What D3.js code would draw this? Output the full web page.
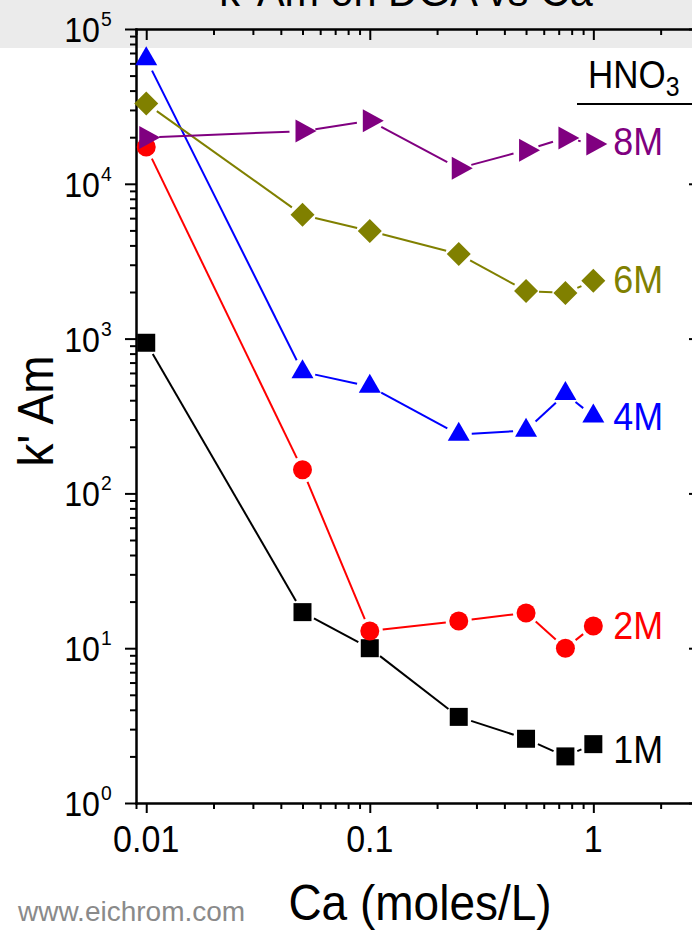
<!DOCTYPE html>
<html><head><meta charset="utf-8">
<script src="https://cdn.jsdelivr.net/npm/d3@7"></script>
<style>body{margin:0;background:#fff;} svg{display:block;} text{font-family:"Liberation Sans",Arial,sans-serif;}</style>
</head><body><svg id="c" width="692" height="930"></svg>
<script>
// ---- data ----
const caValues = [0.01, 0.05, 0.1, 0.25, 0.5, 0.75, 1.0];
const k1M = [940, 17.1, 10.0, 3.6, 2.6, 2.0, 2.4];
const k2M = [17300, 142, 12.9, 15.0, 16.9, 10.0, 13.9];
const k4M = [64000, 610, 490, 240, 255, 440, 315];
const k6M = [33000, 6300, 4950, 3520, 2030, 1970, 2360];
const k8M = [19900, 21900, 25500, 12600, 16500, 19800, 18100];
const seriesNames = ["1M", "2M", "4M", "6M", "8M"];
const seriesValues = [k1M, k2M, k4M, k6M, k8M];
const seriesColors = ["#000000", "#ff0000", "#0000ff", "#808000", "#800080"];
const seriesShapes = ["square", "circle", "triangle", "diamond", "rtriangle"];
const xMajorTicks = [0.01, 0.1, 1];
const xTickLabels = ["0.01", "0.1", "1"];
const yMajorTicks = [1, 10, 100, 1000, 10000, 100000];
const yTickExponents = ["0", "1", "2", "3", "4", "5"];
const titleText = "k' Am on DGA vs Ca";
const xTitle = "Ca (moles/L)";
const yTitle = "k' Am";
const legendTitle = "HNO";
const legendSub = "3";
const watermark = "www.eichrom.com";

// ---- setup ----
const svg = d3.select("#c");
const SX = 0.92;
const x = d3.scaleLog().domain([0.009, 3]).range([136, 700]);
const y = d3.scaleLog().domain([1, 1e5]).range([803, 29]);

svg.append("rect").attr("x", 0).attr("y", 0).attr("width", 692).attr("height", 48).attr("fill", "#ebebeb");

function txt(g, px, py, s, size, anchor, fill, rot) {
  return g.append("text")
    .attr("transform", `translate(${px},${py})` + (rot ? ` rotate(${rot})` : "") + ` scale(${SX},1)`)
    .attr("text-anchor", anchor).attr("font-size", size).attr("fill", fill).text(s);
}

// title (cut off at top, as in the reference)
txt(svg, 406, 6, titleText, 45, "middle", "#000");

// minor tick values
const xMinor = [];
for (let e = -3; e <= 0; e++) for (let m = 1; m <= 9; m++) {
  const v = m * Math.pow(10, e);
  if (v >= 0.009 && v <= 3 && !xMajorTicks.includes(+v.toPrecision(3))) xMinor.push(v);
}
const yMinor = [];
for (let e = 0; e <= 4; e++) for (let m = 2; m <= 9; m++) yMinor.push(m * Math.pow(10, e));

function styleAxis(g) {
  g.selectAll("path.domain").attr("stroke", "#000").attr("stroke-width", 2);
  g.selectAll(".tick line").attr("stroke", "#000").attr("stroke-width", 2);
  g.selectAll(".tick text").remove();
}
const axes = svg.append("g");
// bottom
axes.append("g").attr("transform", "translate(0,803)")
  .call(d3.axisBottom(x).tickValues(xMajorTicks).tickSizeInner(10).tickSizeOuter(0).tickFormat(""))
  .call(styleAxis);
axes.append("g").attr("transform", "translate(0,803)")
  .call(d3.axisBottom(x).tickValues(xMinor).tickSizeInner(6).tickSizeOuter(0).tickFormat(""))
  .call(styleAxis);
// top (inward)
axes.append("g").attr("transform", "translate(0,29)")
  .call(d3.axisTop(x).tickValues(xMajorTicks).tickSizeInner(-11).tickSizeOuter(0).tickFormat(""))
  .call(styleAxis);
axes.append("g").attr("transform", "translate(0,29)")
  .call(d3.axisTop(x).tickValues(xMinor).tickSizeInner(-6).tickSizeOuter(0).tickFormat(""))
  .call(styleAxis);
// left
axes.append("g").attr("transform", "translate(136,0)")
  .call(d3.axisLeft(y).tickValues(yMajorTicks).tickSizeInner(11).tickSizeOuter(0).tickFormat(""))
  .call(styleAxis);
axes.append("g").attr("transform", "translate(136,0)")
  .call(d3.axisLeft(y).tickValues(yMinor).tickSizeInner(6).tickSizeOuter(0).tickFormat(""))
  .call(styleAxis);
// right (inward)
axes.append("g").attr("transform", "translate(700,0)")
  .call(d3.axisRight(y).tickValues(yMajorTicks).tickSizeInner(-11).tickSizeOuter(0).tickFormat(""))
  .call(styleAxis);
axes.append("g").attr("transform", "translate(700,0)")
  .call(d3.axisRight(y).tickValues(yMinor).tickSizeInner(-6).tickSizeOuter(0).tickFormat(""))
  .call(styleAxis);
axes.selectAll("path.domain").attr("stroke-linecap", "square");

// tick labels
xMajorTicks.forEach((v, i) => txt(svg, x(v), 852, xTickLabels[i], 37, "middle", "#000"));
yMajorTicks.forEach((v, i) => {
  txt(svg, 100, y(v) + 13, "10", 35, "end", "#000");
  txt(svg, 101, y(v) - 3, yTickExponents[i], 21, "start", "#000");
});

// axis titles
txt(svg, 420, 920, xTitle, 50, "middle", "#000");
txt(svg, 53, 411, yTitle, 50, "middle", "#000", -90);
// watermark
svg.append("text").attr("x", 18).attr("y", 921).attr("font-size", 28).attr("fill", "#8a8a8a").text(watermark);

// legend header
const lg = svg.append("text").attr("transform", `translate(588,88) scale(${SX},1)`).attr("font-size", 38).attr("fill", "#000");
lg.append("tspan").text(legendTitle);
lg.append("tspan").attr("dy", 8).attr("font-size", 27).text(legendSub);
svg.append("line").attr("x1", 577).attr("x2", 692).attr("y1", 104).attr("y2", 104).attr("stroke", "#000").attr("stroke-width", 2);

// markers
const shapePath = {
  square: "M-9,-9h18v18h-18z",
  circle: "M-9.5,0a9.5,9.5 0 1,0 19,0a9.5,9.5 0 1,0 -19,0z",
  triangle: "M0,-12.7L11,6.3L-11,6.3Z",
  diamond: "M0,-12L12,0L0,12L-12,0Z",
  rtriangle: "M-7,-11.5L14,0L-7,11.5Z"
};
const GAP = 13;
const labelDy = [19, 13, 14, 12, 11];
const plot = svg.append("g");
seriesValues.forEach((vals, si) => {
  const pts = vals.map((v, i) => [x(caValues[i]), y(v)]);
  const g = plot.append("g");
  for (let i = 0; i < pts.length - 1; i++) {
    const [x1, y1] = pts[i], [x2, y2] = pts[i + 1];
    const d = Math.hypot(x2 - x1, y2 - y1);
    if (d <= 2 * GAP) continue;
    const ux = (x2 - x1) / d, uy = (y2 - y1) / d;
    g.append("line").attr("x1", x1 + ux * GAP).attr("y1", y1 + uy * GAP)
      .attr("x2", x2 - ux * GAP).attr("y2", y2 - uy * GAP)
      .attr("stroke", seriesColors[si]).attr("stroke-width", 2);
  }
  g.selectAll("path.m").data(pts).join("path").attr("class", "m")
    .attr("transform", p => `translate(${p[0]},${p[1]})`)
    .attr("d", shapePath[seriesShapes[si]]).attr("fill", seriesColors[si]);
  const last = pts[pts.length - 1];
  txt(svg, last[0] + 20, last[1] + labelDy[si], seriesNames[si], 39, "start", seriesColors[si]);
});
</script></body></html>
